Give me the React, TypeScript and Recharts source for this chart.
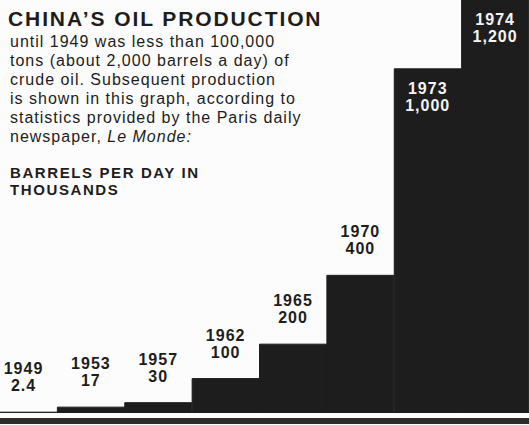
import { BarChart, Bar, XAxis, YAxis, LabelList } from 'recharts';

const years = ['1949', '1953', '1957', '1962', '1965', '1970', '1973', '1974'];
const barrels = [2.4, 17, 30, 100, 200, 400, 1000, 1200];
const valueLabels = ['2.4', '17', '30', '100', '200', '400', '1,000', '1,200'];

const introLines = [
  'until 1949 was less than 100,000',
  'tons (about 2,000 barrels a day) of',
  'crude oil. Subsequent production',
  'is shown in this graph, according to',
  'statistics provided by the Paris daily',
];

const data = years.map((year, i) => ({ year, value: barrels[i], label: valueLabels[i] }));

const INK = '#1d1d1d';
const FONT = '"Liberation Sans", Arial, Helvetica, sans-serif';

function BarLabel(props: any) {
  const { x, y, width, index } = props;
  const cx = x + width / 2;
  const inside = barrels[index] >= 1000;
  const first = inside ? y + 25 : y - 38;
  const second = first + 17;
  return (
    <text
      x={cx}
      textAnchor="middle"
      fontFamily={FONT}
      fontWeight="bold"
      fontSize={16}
      letterSpacing={1}
      fill={inside ? '#f4f4f4' : INK}
    >
      <tspan x={cx} y={first}>{years[index]}</tspan>
      <tspan x={cx} y={second}>{valueLabels[index]}</tspan>
    </text>
  );
}

export default function App() {
  return (
    <div
      style={{
        position: 'fixed',
        left: 0,
        top: 0,
        width: 529,
        height: 425,
        overflow: 'hidden',
        background: '#fcfcfc',
      }}
    >
      <div style={{ position: 'absolute', left: -10, top: 0 }}>
        <BarChart width={539} height={413} data={data} margin={{ top: 0, right: 0, bottom: 0, left: 0 }} barCategoryGap={0}>
          <XAxis dataKey="year" hide />
          <YAxis domain={[0, 1200]} hide />
          <Bar dataKey="value" fill={INK} stroke={INK} strokeWidth={1} isAnimationActive={false}>
            <LabelList dataKey="value" content={<BarLabel />} />
          </Bar>
        </BarChart>
      </div>

      <div style={{ position: 'absolute', left: 0, top: 418, width: 529, height: 6, background: '#2c2c2c' }} />

      <svg width={529} height={425} style={{ position: 'absolute', left: 0, top: 0, pointerEvents: 'none' }}>
        <text x={8} y={26} fontFamily={FONT} fontWeight="bold" fontSize={21} letterSpacing={1.9} fill={INK}>
          CHINA’S OIL PRODUCTION
        </text>
        {introLines.map((line, i) => (
          <text key={i} x={10} y={47 + i * 19} fontFamily={FONT} fontSize={16} letterSpacing={1} fill={INK}>
            {line}
          </text>
        ))}
        <text x={10} y={142} fontFamily={FONT} fontSize={16} letterSpacing={1} fill={INK}>
          newspaper, <tspan fontStyle="italic">Le Monde:</tspan>
        </text>
        <text x={10} y={178} fontFamily={FONT} fontWeight="bold" fontSize={15} letterSpacing={1.6} fill={INK}>
          BARRELS PER DAY IN
        </text>
        <text x={10} y={195} fontFamily={FONT} fontWeight="bold" fontSize={15} letterSpacing={1.6} fill={INK}>
          THOUSANDS
        </text>
      </svg>
    </div>
  );
}
